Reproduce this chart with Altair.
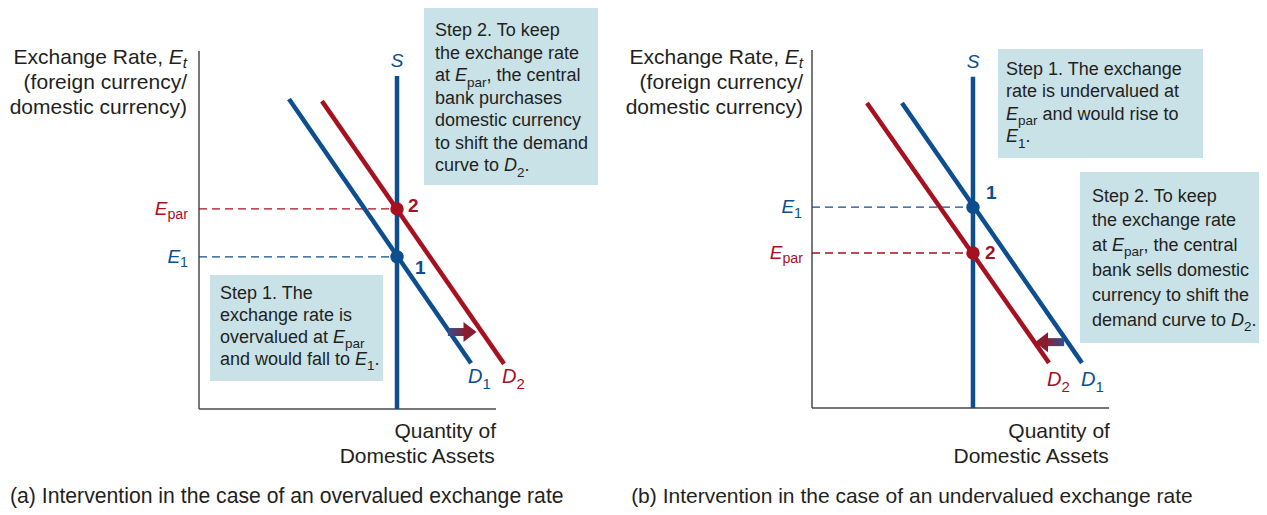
import re
import altair as alt
import pandas as pd

FONT = "Liberation Sans"
BLUE = "#0c4e8e"
RED = "#a5111f"
INK = "#231f20"
BOX_FILL = "#c9e2e8"
AXIS_INK = "#4a4a4a"
HEAD = "#8b1c30"

# ---------------- data (index 0 = panel a, 1 = panel b) ----------------
Q_MAX = [10.0, 10.0]          # quantity axis extent
E_MAX = [10.0, 10.0]          # exchange-rate axis extent
S_Q = [6.667, 5.42]           # vertical supply curve S
S_TOP = [9.3, 9.25]
E_PAR = [5.59, 4.33]
E_ONE = [4.25, 5.61]
D1_Q = [[3.03, 9.16], [3.03, 9.09]]
D1_E = [[8.66, 1.28], [8.52, 1.26]]
D2_Q = [[4.14, 10.27], [1.85, 7.98]]
D2_E = [[8.60, 1.26], [8.52, 1.26]]
ARROW_Y = [2.15, 1.84]
ARROW_TAIL = [8.38, 8.49]
ARROW_NECK = [8.96, 7.88]
ARROW_HEAD = [9.125, 7.727]

BOX_X1 = [[0.370, 7.576], [6.263, 9.024]]
BOX_X2 = [[6.195, 13.434], [13.165, 15.05]]
BOX_Y1 = [[3.743, 11.20], [10.028, 6.592]]
BOX_Y2 = [[0.782, 6.257], [6.983, 1.816]]

Y_TITLE = ["Exchange Rate, [i:E][is:t]", "(foreign currency/", "domestic currency)"]
X_TITLE = ["Quantity of", "Domestic Assets"]
CAPTIONS = ["(a) Intervention in the case of an overvalued exchange rate",
            "(b) Intervention in the case of an undervalued exchange rate"]
STEP1 = [["Step 1. The", "exchange rate is", "overvalued at [i:E][s:par]",
          "and would fall to [i:E][s:1]."],
         ["Step 1. The exchange", "rate is undervalued at",
          "[i:E][s:par] and would rise to", "[i:E][s:1]."]]
STEP2 = [["Step 2. To keep", "the exchange rate", "at [i:E][s:par], the central",
          "bank purchases", "domestic currency", "to shift the demand",
          "curve to [i:D][s:2]."],
         ["Step 2. To keep", "the exchange rate", "at [i:E][s:par], the central",
          "bank sells domestic", "currency to shift the",
          "demand curve to [i:D][s:2]."]]

# ---------------- layout ----------------
PANEL_W = [612, 639]
PANEL_H = 499
ORIGIN_PX = [(191, 401), (192, 400)]
KX, KY = 29.7, 35.8

# (panel, x, y, align, size, color, line gap px, lines)
BLOCKS = [
    (0, -0.404, 9.804, "right", 21, INK, 25, Y_TITLE),
    (0, 10.0, -0.642, "right", 21, INK, 25, X_TITLE),
    (0, -6.364, -2.458, "left", 21.2, INK, 0, [CAPTIONS[0]]),
    (0, 0.707, 3.212, "left", 18, INK, 22, STEP1[0]),
    (0, 7.946, 10.545, "left", 18, INK, 22.5, STEP2[0]),
    (0, -0.37, E_PAR[0], "right", 19, RED, 0, ["[i:E][s:par]"]),
    (0, -0.37, E_ONE[0], "right", 19, BLUE, 0, ["[i:E][s:1]"]),
    (0, S_Q[0], 9.72, "center", 19, BLUE, 0, ["[i:S]"]),
    (0, 7.04, 5.67, "left", 19, RED, 0, ["[b:2]"]),
    (0, 7.27, 3.94, "left", 19, BLUE, 0, ["[b:1]"]),
    (0, 9.06, 0.894, "left", 20, BLUE, 0, ["[i:D][s:1]"]),
    (0, 10.20, 0.894, "left", 20, RED, 0, ["[i:D][s:2]"]),
    (1, -0.303, 9.777, "right", 21, INK, 25, Y_TITLE),
    (1, 10.03, -0.670, "right", 21, INK, 25, X_TITLE),
    (1, -6.09, -2.486, "left", 21, INK, 0, [CAPTIONS[1]]),
    (1, 6.532, 9.453, "left", 18, INK, 22.6, STEP1[1]),
    (1, 9.428, 5.905, "left", 18, INK, 24.8, STEP2[1]),
    (1, -0.337, E_ONE[1], "right", 19, BLUE, 0, ["[i:E][s:1]"]),
    (1, -0.303, E_PAR[1], "right", 19, RED, 0, ["[i:E][s:par]"]),
    (1, S_Q[1], 9.665, "center", 19, BLUE, 0, ["[i:S]"]),
    (1, 5.859, 6.006, "left", 19, BLUE, 0, ["[b:1]"]),
    (1, 5.825, 4.33, "left", 19, RED, 0, ["[b:2]"]),
    (1, 7.912, 0.782, "left", 20, RED, 0, ["[i:D][s:2]"]),
    (1, 9.057, 0.782, "left", 20, BLUE, 0, ["[i:D][s:1]"]),
]

# Arial / Liberation Sans advance widths (per 1000 em)
AW = {' ': 278, '(': 333, ')': 333, ',': 278, '.': 278, '/': 278, '-': 333}
for c in "0123456789":
    AW[c] = 556
AW.update(dict(zip("ABCDEFGHIJKLMNOPQRSTUVWXYZ",
                   [667, 667, 722, 722, 667, 611, 778, 722, 278, 500, 667, 556, 833,
                    722, 778, 667, 778, 722, 667, 611, 722, 667, 944, 667, 667, 611])))
AW.update(dict(zip("abcdefghijklmnopqrstuvwxyz",
                   [556, 556, 500, 556, 556, 278, 556, 556, 222, 222, 500, 222, 833,
                    556, 556, 556, 556, 333, 500, 278, 556, 500, 722, 500, 500, 500])))


def tw(s, fs):
    return sum(AW.get(c, 556) for c in s) * fs / 1000.0


TOK = re.compile(r"\[(\w+):([^\]]*)\]")


def parse(line):
    out, pos = [], 0
    for m in TOK.finditer(line):
        if m.start() > pos:
            out.append(("n", line[pos:m.start()]))
        out.append((m.group(1), m.group(2)))
        pos = m.end()
    if pos < len(line):
        out.append(("n", line[pos:]))
    return out


STYLE = {"n": "normal", "s": "normal", "i": "italic", "is": "italic", "b": "bold"}
SUB_RATIO = {"s": 0.75, "is": 0.72}
SUB_DROP = {"s": 0.34, "is": 0.22}
text_rows = []
for p, x0, y0, align, size, color, gap, lines in BLOCKS:
    for k, line in enumerate(lines):
        items, off = [], 0.0
        for st, txt in parse(line):
            sub = st in SUB_RATIO
            fs = size * SUB_RATIO[st] if sub else size
            lead = len(txt) - len(txt.lstrip(" "))
            items.append((st, txt.strip(), fs, off + lead * 278 * fs / 1000.0))
            off += tw(txt, fs)
        shift = 0.0 if align == "left" else (-off if align == "right" else -off / 2)
        yl = y0 - k * gap / KY
        for st, t, fs, o in items:
            if not t:
                continue
            drop = SUB_DROP.get(st, 0.0) * size / KY
            text_rows.append(dict(panel=p, x=x0 + (shift + o) / KX, y=yl - drop,
                                  text=t, fs=fs, color=color, style=STYLE[st]))
TEXT = pd.DataFrame(text_rows)


def panel(i):
    ox, oy = ORIGIN_PX[i]
    xs = alt.Scale(domain=[-ox / KX, (PANEL_W[i] - ox) / KX], nice=False, zero=False)
    ys = alt.Scale(domain=[-(PANEL_H - oy) / KY, oy / KY], nice=False, zero=False)
    X = alt.X("x:Q", scale=xs, axis=None)
    Y = alt.Y("y:Q", scale=ys, axis=None)
    col = alt.Color("color:N", scale=None)

    boxes = pd.DataFrame(dict(x=BOX_X1[i], x2=BOX_X2[i], y=BOX_Y1[i], y2=BOX_Y2[i]))
    l_box = alt.Chart(boxes).mark_rect(fill=BOX_FILL, strokeWidth=0).encode(
        x=X, x2="x2:Q", y=Y, y2="y2:Q")

    axes = pd.DataFrame(dict(x=[0, 0], x2=[0, Q_MAX[i]], y=[0, 0], y2=[E_MAX[i], 0]))
    l_axes = alt.Chart(axes).mark_rule(color=AXIS_INK, strokeWidth=1.5).encode(
        x=X, x2="x2:Q", y=Y, y2="y2:Q")

    dash = pd.DataFrame(dict(x=[0, 0], x2=[S_Q[i], S_Q[i]], y=[E_PAR[i], E_ONE[i]],
                             color=[RED, BLUE]))
    l_dash = alt.Chart(dash).mark_rule(strokeDash=[8, 5], strokeWidth=1.3).encode(
        x=X, x2="x2:Q", y=Y, color=col)

    sup = pd.DataFrame(dict(x=[S_Q[i]], y=[0.0], y2=[S_TOP[i]]))
    l_sup = alt.Chart(sup).mark_rule(color=BLUE, strokeWidth=4.5).encode(
        x=X, y=Y, y2="y2:Q")

    dem = pd.DataFrame(dict(
        curve=["D1", "D1", "D2", "D2"],
        x=D1_Q[i] + D2_Q[i], y=D1_E[i] + D2_E[i],
        color=[BLUE, BLUE, RED, RED]))
    l_dem = alt.Chart(dem).mark_line(strokeWidth=4.5).encode(
        x=X, y=Y, detail="curve:N", color=col)

    h = 4.0 / KY
    shaft = pd.DataFrame(dict(x=[ARROW_TAIL[i]], x2=[ARROW_NECK[i]],
                              y=[ARROW_Y[i] - h], y2=[ARROW_Y[i] + h]))
    stops = [{"offset": 0, "color": "#2e4f91"}, {"offset": 1, "color": "#8b2034"}]
    if i == 1:
        stops = [{"offset": 0, "color": "#8b2034"}, {"offset": 1, "color": "#2e4f91"}]
    grad = {"gradient": "linear", "stops": stops, "x1": 0, "x2": 1, "y1": 0, "y2": 0}
    l_shaft = alt.Chart(shaft).mark_rect(fill=grad, strokeWidth=0).encode(
        x=X, x2="x2:Q", y=Y, y2="y2:Q")

    head = pd.DataFrame(dict(x=[ARROW_HEAD[i]], y=[ARROW_Y[i]]))
    path = "M0.65,0L-0.65,-1L-0.65,1Z" if i == 0 else "M-0.65,0L0.65,-1L0.65,1Z"
    l_head = alt.Chart(head).mark_point(shape=path, filled=True, size=400, opacity=1,
                                        color=HEAD, strokeWidth=0).encode(x=X, y=Y)

    pts = pd.DataFrame(dict(x=[S_Q[i], S_Q[i]], y=[E_PAR[i], E_ONE[i]], color=[RED, BLUE]))
    l_pts = alt.Chart(pts).mark_circle(size=180, opacity=1).encode(x=X, y=Y, color=col)

    tdf = TEXT[TEXT.panel == i]
    texts = []
    for style in ["normal", "italic", "bold"]:
        sub = tdf[tdf["style"] == style]
        if sub.empty:
            continue
        kw = dict(align="left", baseline="middle", font=FONT)
        if style == "italic":
            kw["fontStyle"] = "italic"
        if style == "bold":
            kw["fontWeight"] = "bold"
        texts.append(alt.Chart(sub).mark_text(**kw).encode(
            x=X, y=Y, text="text:N", size=alt.Size("fs:Q", scale=None), color=col))

    return alt.layer(l_box, l_axes, l_dash, l_sup, l_dem, l_shaft, l_head, l_pts,
                     *texts).properties(width=PANEL_W[i], height=PANEL_H)


chart = alt.hconcat(panel(0), panel(1), spacing=0, bounds="flush", padding=0
                    ).configure_view(stroke=None)

chart.save("out.html", embed_options={"renderer": "svg", "actions": False})
